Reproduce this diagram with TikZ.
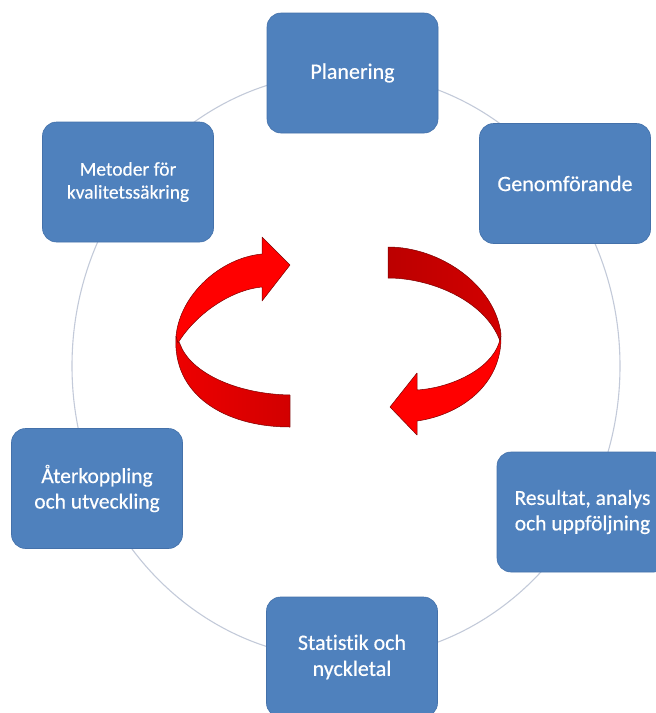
\documentclass[tikz,border=0pt]{standalone}
\usepackage{fontspec}
\setmainfont{Carlito}[Ligatures=NoCommon, FakeBold=0.4]
\definecolor{boxblue}{HTML}{4F81BD}
\definecolor{boxedge}{HTML}{4471AA}
\definecolor{ringcol}{HTML}{C3CAD9}
\definecolor{arrbright}{HTML}{FF0000}
\definecolor{arrmid}{HTML}{EE0000}
\definecolor{arrlow}{HTML}{D20000}
\definecolor{arrdark}{HTML}{BC0000}
\definecolor{arredge}{HTML}{7A0000}
\begin{document}
\begin{tikzpicture}[x=1pt,y=-1pt,
  stagebox/.style={rectangle, rounded corners=14pt, fill=boxblue, draw=boxedge,
    line width=0.6pt, minimum width=171pt, minimum height=120pt, text=white,
    align=center, font=\fontsize{22}{26}\selectfont, inner sep=2pt},
  ring/.style={draw=ringcol, line width=1.1pt},
  ribbon/.style={draw=arredge, line width=0.5pt, line join=round}]
\useasboundingbox (0,0) rectangle (656,713);
\clip (0,0) rectangle (656,713);
% background ring
\draw[ring] (346,366) ellipse [x radius=274pt, y radius=293pt];
% stages
\node[stagebox] (plan) at (352.5,73) {Planering};
\node[stagebox] (genom) at (565,183.5) {Genomförande};
\node[stagebox, font=\fontsize{21.5}{25.5}\selectfont] (result) at (582.5,512) {Resultat, analys\\och uppföljning};
\node[stagebox] (stat) at (352,657) {Statistik och\\nyckletal};
\node[stagebox, font=\fontsize{21.5}{25.5}\selectfont] (ater) at (97,488.5) {Återkoppling\\och utveckling};
\node[stagebox, font=\fontsize{19.5}{23}\selectfont] (metod) at (128,182) {Metoder för\\kvalitetssäkring};
% left arrow: back (lower) part
\draw[ribbon, left color=arrmid, right color=arrlow]
  (176,336) .. controls (172,395) and (225,427) .. (290,427) -- (290,395)
  .. controls (235,394) and (190,372) .. (180,344) -- cycle;
% left arrow: front (upper) part with head
\draw[ribbon, fill=arrbright]
  (262,254) .. controls (220,258) and (180,295) .. (176,336) -- (178,343)
  .. controls (195,315) and (230,290) .. (262,287) -- (262,301) -- (290,265)
  -- (262,237) -- cycle;
% right arrow: back (upper) part
\draw[ribbon, left color=arrdark, right color=arrlow]
  (388,247) .. controls (440,247) and (495,285) .. (501,334) -- (500,341)
  .. controls (485,300) and (430,278) .. (388,278) -- cycle;
% right arrow: front (lower) part with head
\draw[ribbon, fill=arrbright]
  (501,336) .. controls (502,385) and (460,415) .. (417,421) -- (417,435)
  -- (390,407) -- (417,373) -- (417,390)
  .. controls (450,388) and (490,370) .. (499,343) -- cycle;
\end{tikzpicture}
\end{document}
